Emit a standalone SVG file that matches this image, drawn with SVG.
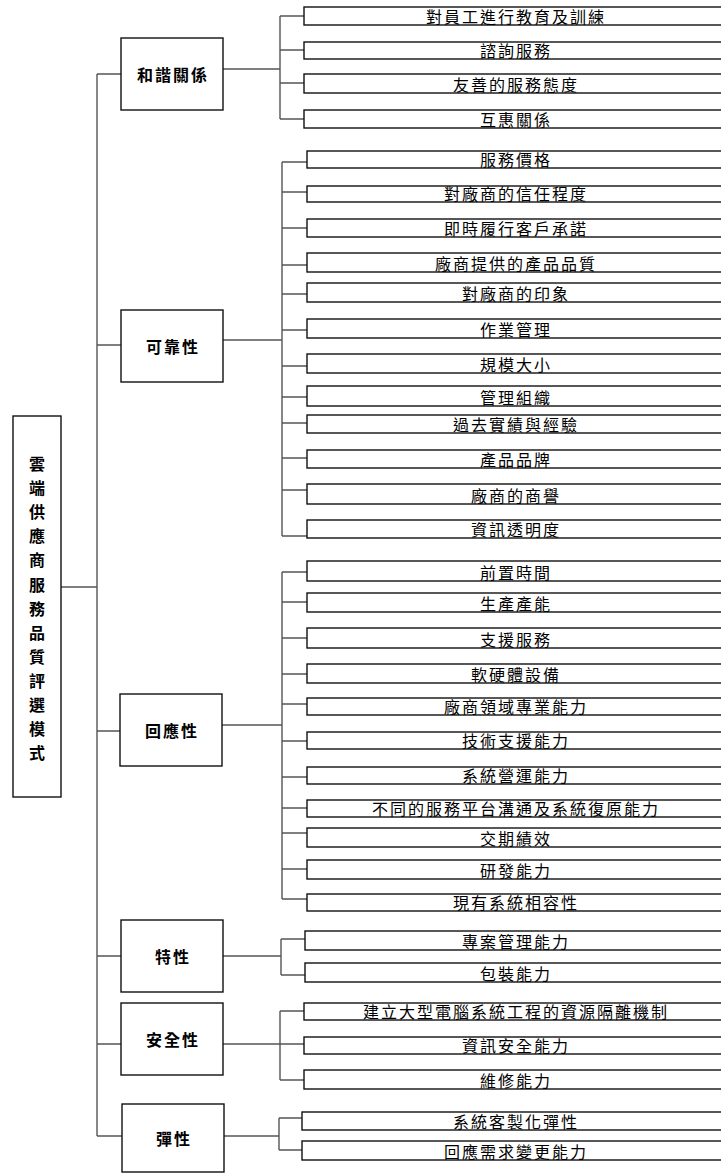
<svg xmlns="http://www.w3.org/2000/svg" width="721" height="1175" viewBox="0 0 721 1175">
<style>
.bx{fill:#fff;stroke:#111;stroke-width:1.4}
.cn{fill:none;stroke:#555;stroke-width:1.4}
.lf{font-family:"Noto Sans CJK TC","Noto Sans CJK SC",sans-serif;font-size:16px;letter-spacing:2px;text-anchor:middle;fill:#000}
.ct{font-family:"Noto Sans CJK TC","Noto Sans CJK SC",sans-serif;font-size:16px;font-weight:bold;letter-spacing:2px;text-anchor:middle;dominant-baseline:central;fill:#000}
</style>
<rect width="721" height="1175" fill="#fff"/>
<g id="connectors" class="cn">
<path d="M61 587H97M97 74V1136M97 74H121M97 345H121M97 731H120M97 956H121M97 1044H121M97 1136H122"/>
<path d="M223 69H280M280 16V119M280 16H304M280 50H304M280 83H304M280 119H304"/>
<path d="M223 340H282M282 162V536M282 162H307M282 192H307M282 228H307M282 265H307M282 294H307M282 330H307M282 366H307M282 397H307M282 423H307M282 458H307M282 490H307M282 536H307"/>
<path d="M222 725H282M282 572V899M282 572H307M282 602H307M282 638H307M282 674H307M282 704H307M282 741H307M282 777H307M282 808H307M282 833H307M282 869H307M282 899H307"/>
<path d="M223 956H281M281 939V975M281 939H305M281 975H305"/>
<path d="M223 1044H304M280 1011V1080M280 1011H304M280 1080H304"/>
<path d="M224 1136H279M279 1118V1150M279 1118H302M279 1150H302"/>
</g>
<g id="root"><rect class="bx" x="13" y="416" width="48" height="381"/>
<g class="ct" style="letter-spacing:0"><text x="37" y="463">雲</text><text x="37" y="487">端</text><text x="37" y="511">供</text><text x="37" y="535">應</text><text x="37" y="559">商</text><text x="37" y="584">服</text><text x="37" y="608">務</text><text x="37" y="632">品</text><text x="37" y="656">質</text><text x="37" y="680">評</text><text x="37" y="704">選</text><text x="37" y="728">模</text><text x="37" y="752">式</text></g></g>
<g id="c1"><rect class="bx" x="121" y="38" width="102" height="72"/><text class="ct" x="173" y="74">和諧關係</text></g>
<g id="c2"><rect class="bx" x="121" y="310" width="102" height="72"/><text class="ct" x="173" y="346">可靠性</text></g>
<g id="c3"><rect class="bx" x="120" y="694" width="102" height="72"/><text class="ct" x="172" y="730">回應性</text></g>
<g id="c4"><rect class="bx" x="121" y="920" width="102" height="72"/><text class="ct" x="173" y="956">特性</text></g>
<g id="c5"><rect class="bx" x="121" y="1003" width="102" height="72"/><text class="ct" x="173" y="1039">安全性</text></g>
<g id="c6"><rect class="bx" x="122" y="1104" width="102" height="68"/><text class="ct" x="174" y="1138">彈性</text></g>
<g id="l1"><rect class="bx" x="304" y="7" width="421" height="18"/><text class="lf" x="516" y="23">對員工進行教育及訓練</text></g>
<g id="l2"><rect class="bx" x="304" y="42" width="421" height="17"/><text class="lf" x="516" y="57">諮詢服務</text></g>
<g id="l3"><rect class="bx" x="304" y="74" width="421" height="19"/><text class="lf" x="516" y="91">友善的服務態度</text></g>
<g id="l4"><rect class="bx" x="304" y="110" width="421" height="18"/><text class="lf" x="516" y="126">互惠關係</text></g>
<g id="l5"><rect class="bx" x="307" y="151" width="418" height="17"/><text class="lf" x="516" y="166">服務價格</text></g>
<g id="l6"><rect class="bx" x="307" y="186" width="418" height="16"/><text class="lf" x="516" y="200">對廠商的信任程度</text></g>
<g id="l7"><rect class="bx" x="307" y="219" width="418" height="18"/><text class="lf" x="516" y="235">即時履行客戶承諾</text></g>
<g id="l8"><rect class="bx" x="307" y="253" width="418" height="19"/><text class="lf" x="516" y="270">廠商提供的產品品質</text></g>
<g id="l9"><rect class="bx" x="307" y="283" width="418" height="19"/><text class="lf" x="516" y="300">對廠商的印象</text></g>
<g id="l10"><rect class="bx" x="307" y="319" width="418" height="19"/><text class="lf" x="516" y="336">作業管理</text></g>
<g id="l11"><rect class="bx" x="307" y="354" width="418" height="19"/><text class="lf" x="516" y="371">規模大小</text></g>
<g id="l12"><rect class="bx" x="307" y="386" width="418" height="20"/><text class="lf" x="516" y="404">管理組織</text></g>
<g id="l13"><rect class="bx" x="307" y="415" width="418" height="18"/><text class="lf" x="516" y="431">過去實績與經驗</text></g>
<g id="l14"><rect class="bx" x="307" y="450" width="418" height="18"/><text class="lf" x="516" y="466">產品品牌</text></g>
<g id="l15"><rect class="bx" x="307" y="484" width="418" height="20"/><text class="lf" x="516" y="502">廠商的商譽</text></g>
<g id="l16"><rect class="bx" x="307" y="520" width="418" height="18"/><text class="lf" x="516" y="536">資訊透明度</text></g>
<g id="l17"><rect class="bx" x="307" y="561" width="418" height="20"/><text class="lf" x="516" y="579">前置時間</text></g>
<g id="l18"><rect class="bx" x="307" y="593" width="418" height="19"/><text class="lf" x="516" y="610">生產產能</text></g>
<g id="l19"><rect class="bx" x="307" y="628" width="418" height="20"/><text class="lf" x="516" y="646">支援服務</text></g>
<g id="l20"><rect class="bx" x="307" y="664" width="418" height="19"/><text class="lf" x="516" y="681">軟硬體設備</text></g>
<g id="l21"><rect class="bx" x="307" y="698" width="418" height="17"/><text class="lf" x="516" y="713">廠商領域專業能力</text></g>
<g id="l22"><rect class="bx" x="307" y="732" width="418" height="17"/><text class="lf" x="516" y="747">技術支援能力</text></g>
<g id="l23"><rect class="bx" x="307" y="767" width="418" height="17"/><text class="lf" x="516" y="782">系統營運能力</text></g>
<g id="l24"><rect class="bx" x="307" y="800" width="418" height="17"/><text class="lf" x="516" y="815">不同的服務平台溝通及系統復原能力</text></g>
<g id="l25"><rect class="bx" x="307" y="828" width="418" height="19"/><text class="lf" x="516" y="845">交期績效</text></g>
<g id="l26"><rect class="bx" x="307" y="860" width="418" height="19"/><text class="lf" x="516" y="877">研發能力</text></g>
<g id="l27"><rect class="bx" x="307" y="894" width="418" height="17"/><text class="lf" x="516" y="909">現有系統相容性</text></g>
<g id="l28"><rect class="bx" x="305" y="931" width="420" height="19"/><text class="lf" x="516" y="948">專案管理能力</text></g>
<g id="l29"><rect class="bx" x="305" y="963" width="420" height="19"/><text class="lf" x="516" y="980">包裝能力</text></g>
<g id="l30"><rect class="bx" x="304" y="1003" width="421" height="17"/><text class="lf" x="516" y="1018">建立大型電腦系統工程的資源隔離機制</text></g>
<g id="l31"><rect class="bx" x="304" y="1037" width="421" height="17"/><text class="lf" x="516" y="1052">資訊安全能力</text></g>
<g id="l32"><rect class="bx" x="304" y="1070" width="421" height="19"/><text class="lf" x="516" y="1087">維修能力</text></g>
<g id="l33"><rect class="bx" x="302" y="1112" width="423" height="18"/><text class="lf" x="516" y="1128">系統客製化彈性</text></g>
<g id="l34"><rect class="bx" x="302" y="1141" width="423" height="19"/><text class="lf" x="516" y="1158">回應需求變更能力</text></g>
</svg>
